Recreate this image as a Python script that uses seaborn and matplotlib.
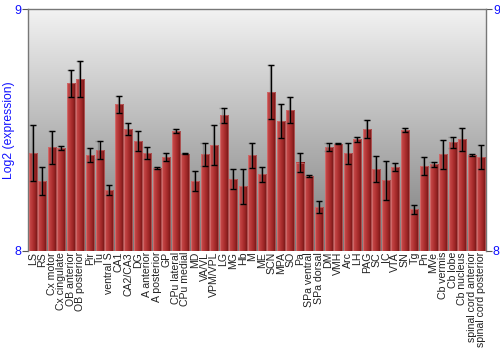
import numpy as np
import pandas as pd
import matplotlib
matplotlib.use("Agg")
import matplotlib.pyplot as plt
import seaborn as sns
from matplotlib.colors import LinearSegmentedColormap

categories = ["LS", "RS", "Cx motor", "Cx cingulate", "OB anterior", "OB posterior", "Pir", "Tu",
              "ventral S", "CA1", "CA2/CA3", "DG", "A anterior", "A posterior", "GP", "CPu lateral",
              "CPu medial", "MD", "VA/VL", "VPM/VPL", "LG", "MG", "Hb", "M", "ME", "SCN", "MPA", "SO",
              "Pa", "SPa ventral", "SPa dorsal", "DM", "VMH", "Arc", "LH", "PAG", "SC", "IC", "VTA",
              "SN", "Tg", "Pn", "MVe", "Cb vermis", "Cb lobe", "Cb nucleus", "spinal cord anterior",
              "spinal cord posterior"]
values = [8.405, 8.289, 8.428, 8.425, 8.693, 8.713, 8.396, 8.416, 8.250, 8.606, 8.503, 8.456,
          8.405, 8.343, 8.388, 8.497, 8.402, 8.289, 8.399, 8.438, 8.561, 8.297, 8.267, 8.396,
          8.316, 8.657, 8.539, 8.583, 8.365, 8.309, 8.182, 8.430, 8.443, 8.403, 8.461, 8.503,
          8.338, 8.291, 8.347, 8.499, 8.171, 8.351, 8.358, 8.399, 8.450, 8.461, 8.396, 8.387]
errors = [0.115, 0.057, 0.070, 0.009, 0.056, 0.074, 0.028, 0.037, 0.020, 0.035, 0.025, 0.041,
          0.026, 0.004, 0.015, 0.008, 0.003, 0.043, 0.048, 0.081, 0.032, 0.043, 0.073, 0.052,
          0.032, 0.113, 0.070, 0.055, 0.041, 0.003, 0.025, 0.017, 0.003, 0.043, 0.012, 0.037,
          0.053, 0.082, 0.018, 0.008, 0.019, 0.036, 0.011, 0.060, 0.023, 0.048, 0.003, 0.049]
y_ticks = [8, 9]
y_label = "Log2 (expression)"

df = pd.DataFrame({"region": categories, "value": values, "err": errors})

fig = plt.figure(figsize=(5, 3.5), dpi=100)
ax = fig.add_axes([0.056, 0.284, 0.916, 0.689])

sns.barplot(data=df, x="region", y="value", ax=ax, errorbar=None, width=0.84,
            color="#b03030", zorder=3)
ymin, ymax = y_ticks[0], y_ticks[-1]

# background gradient
bg = LinearSegmentedColormap.from_list("bg", ["#7c7c7c", "#f2f2f2"])
grad = np.linspace(0, 1, 256).reshape(-1, 1)
ax.imshow(grad, cmap=bg, aspect="auto", extent=[0, 1, 0, 1], origin="lower",
          transform=ax.transAxes, zorder=0)

# bar gradient
barmap = LinearSegmentedColormap.from_list("bar", ["#c85050", "#b83838", "#9c2626", "#6e1414"])
hgrad = np.linspace(0, 1, 64).reshape(1, -1)
xs = []
for p in ax.patches:
    x0, w, h = p.get_x(), p.get_width(), p.get_height()
    top = p.get_y() + h
    xs.append(x0 + w / 2)
    ax.imshow(hgrad, cmap=barmap, aspect="auto", extent=[x0, x0 + w, ymin, top],
              origin="lower", zorder=3)
    p.set_facecolor("none")
    p.set_edgecolor("#d88080")
    p.set_linewidth(0.4)
    p.set_zorder(4)

ax.errorbar(np.array(xs) - 0.12, values, yerr=errors, fmt="none", ecolor="#777777",
            elinewidth=1, capsize=2, capthick=1, zorder=5, alpha=0.6)
ax.errorbar(xs, values, yerr=errors, fmt="none", ecolor="black",
            elinewidth=1, capsize=2, capthick=1, zorder=6)
ax.set_xlim(-0.5, len(categories) - 0.5)
ax.set_ylim(ymin, ymax)

ax.set_xlabel("")
ax.set_ylabel(y_label, color="#1010ff", fontsize=8.7, family="Liberation Sans")
ax.yaxis.set_label_coords(-0.028, 0.5)
ax.set_yticks(y_ticks)
ax.set_yticklabels([str(t) for t in y_ticks], color="#1010ff", fontsize=9, family="Liberation Sans")
ax.tick_params(axis="y", length=4, color="#555555", pad=1, right=True, labelright=True)
ax.tick_params(axis="x", length=0, pad=1)
ax.set_xticks(range(len(categories)))
ax.set_xticklabels(categories, rotation=90, fontsize=7.6, family="Liberation Sans", color="#222222")
for s in ["left", "right", "top"]:
    ax.spines[s].set_color("#777777")
    ax.spines[s].set_linewidth(1)
ax.spines["bottom"].set_visible(False)

fig.savefig("out.png", dpi=100)
